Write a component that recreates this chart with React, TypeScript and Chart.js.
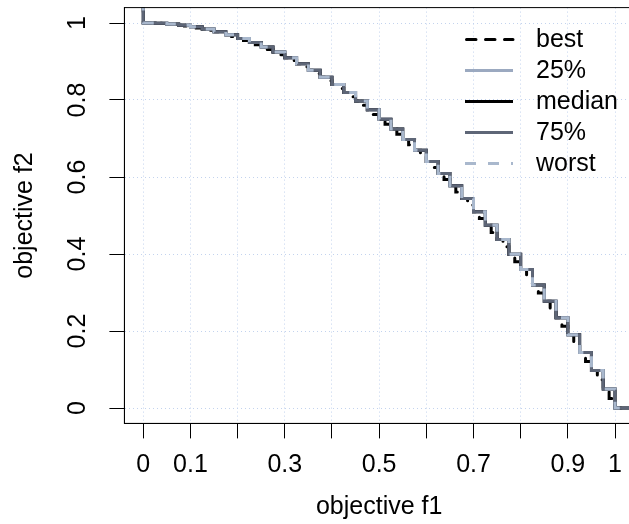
import React, { useEffect, useRef } from "react";
import { Chart, registerables } from "chart.js";

Chart.register(...registerables);

// ---- data ----
const SERIES_NAMES = ["best", "25%", "median", "75%", "worst"];

const X_TICKS = [0, 0.1, 0.2, 0.3, 0.4, 0.5, 0.6, 0.7, 0.8, 0.9, 1];
const X_TICK_LABELS = ["0", "0.1", "", "0.3", "", "0.5", "", "0.7", "", "0.9", "1"];
const Y_TICKS = [0, 0.2, 0.4, 0.6, 0.8, 1];
const Y_TICK_LABELS = ["0", "0.2", "0.4", "0.6", "0.8", "1"];

// best attainment surface (finer set of points)
const BEST_F1 = [
  0, 0.0125, 0.025, 0.0375, 0.05, 0.0625, 0.075, 0.0875, 0.1, 0.1125,
  0.125, 0.1375, 0.15, 0.1625, 0.175, 0.1875, 0.2, 0.2125, 0.225, 0.2375,
  0.25, 0.2625, 0.275, 0.2875, 0.3, 0.3125, 0.325, 0.3375, 0.35, 0.3625,
  0.375, 0.3875, 0.4, 0.4125, 0.425, 0.4375, 0.45, 0.4625, 0.475, 0.4875,
  0.5, 0.5125, 0.525, 0.5375, 0.55, 0.5625, 0.575, 0.5875, 0.6, 0.6125,
  0.625, 0.6375, 0.65, 0.6625, 0.675, 0.6875, 0.7, 0.7125, 0.725, 0.7375,
  0.75, 0.7625, 0.775, 0.7875, 0.8, 0.8125, 0.825, 0.8375, 0.85, 0.8625,
  0.875, 0.8875, 0.9, 0.9125, 0.925, 0.9375, 0.95, 0.9625, 0.975, 0.9875,
  1,
];
const BEST_F2 = [
  1, 0.9998, 0.9994, 0.9986, 0.9975, 0.9961, 0.9944, 0.9923, 0.99, 0.9873,
  0.9844, 0.9811, 0.9775, 0.9736, 0.9694, 0.9648, 0.96, 0.9548, 0.9494, 0.9436,
  0.9375, 0.9311, 0.9244, 0.9173, 0.91, 0.9023, 0.8944, 0.8861, 0.8775, 0.8686,
  0.8594, 0.8498, 0.84, 0.8298, 0.8194, 0.8086, 0.7975, 0.7861, 0.7744, 0.7623,
  0.75, 0.7373, 0.7244, 0.7111, 0.6975, 0.6836, 0.6694, 0.6548, 0.64, 0.6248,
  0.6094, 0.5936, 0.5775, 0.5611, 0.5444, 0.5273, 0.51, 0.4923, 0.4744, 0.4561,
  0.4375, 0.4186, 0.3994, 0.3798, 0.36, 0.3398, 0.3194, 0.2986, 0.2775, 0.2561,
  0.2344, 0.2123, 0.19, 0.1673, 0.1444, 0.1211, 0.0975, 0.0736, 0.0494, 0.0248,
  0,
];

// 25%, median, 75% and worst attainment surfaces (coincide at this scale)
const SURF_F1 = [
  0, 0.025, 0.05, 0.075, 0.1, 0.125, 0.15, 0.175, 0.2, 0.225,
  0.25, 0.275, 0.3, 0.325, 0.35, 0.375, 0.4, 0.425, 0.45, 0.475,
  0.5, 0.525, 0.55, 0.575, 0.6, 0.625, 0.65, 0.675, 0.7, 0.725,
  0.75, 0.775, 0.8, 0.825, 0.85, 0.875, 0.9, 0.925, 0.95, 0.975,
  1,
];
const SURF_F2 = [
  1, 0.9994, 0.9975, 0.9944, 0.99, 0.9844, 0.9775, 0.9694, 0.96, 0.9494,
  0.9375, 0.9244, 0.91, 0.8944, 0.8775, 0.8594, 0.84, 0.8194, 0.7975, 0.7744,
  0.75, 0.7244, 0.6975, 0.6694, 0.64, 0.6094, 0.5775, 0.5444, 0.51, 0.4744,
  0.4375, 0.3994, 0.36, 0.3194, 0.2775, 0.2344, 0.19, 0.1444, 0.0975, 0.0494,
  0,
];
const Q25_F2 = SURF_F2;
const MEDIAN_F2 = SURF_F2;
const Q75_F2 = SURF_F2;
const WORST_F2 = SURF_F2;

// ---- styling ----
const FONT = "'Liberation Sans', Arial, Helvetica, sans-serif";
const FS = 25;
const GRID = "#c3d3ee";
const COLORS = ["#000000", "#9ba9c0", "#000000", "#5e6677", "#a9b8cd"];
const DASHES: number[][] = [[9.5, 9.5], [], [], [], [11, 12]];
const CAPS = ["round", "butt", "butt", "butt", "butt"];
const OUT = 1.3; // beyond plotting range (open ends of the surfaces)

function surface(xs: number[], ys: number[]) {
  const pts = [{ x: xs[0], y: OUT }];
  xs.forEach((x, i) => pts.push({ x, y: ys[i] }));
  pts.push({ x: OUT, y: ys[ys.length - 1] });
  return pts;
}

const boxLegend = {
  id: "boxLegend",
  afterDraw(chart: any) {
    const { ctx, chartArea: a } = chart;
    ctx.save();
    ctx.strokeStyle = "#000";
    ctx.lineWidth = 1;
    ctx.setLineDash([]);
    ctx.strokeRect(a.left, a.top, a.right - a.left, a.bottom - a.top);

    // legend (top right, inside plot)
    const x0 = 465, x1 = 513, tx = 536, y0 = 39.5, dy = 31;
    ctx.font = `${FS}px ${FONT}`;
    ctx.textBaseline = "middle";
    ctx.textAlign = "left";
    SERIES_NAMES.forEach((name, i) => {
      const y = y0 + i * dy;
      ctx.beginPath();
      ctx.strokeStyle = COLORS[i];
      ctx.lineWidth = 3;
      ctx.lineCap = CAPS[i];
      ctx.setLineDash(DASHES[i]);
      ctx.moveTo(x0 + (CAPS[i] === "round" ? 1.5 : 0), y);
      ctx.lineTo(x1, y);
      ctx.stroke();
      ctx.setLineDash([]);
      ctx.fillStyle = "#000";
      ctx.fillText(name, tx, y + 1);
    });
    ctx.restore();
  },
};

export default function App() {
  const ref = useRef<HTMLCanvasElement | null>(null);

  useEffect(() => {
    if (!ref.current) return;
    Chart.defaults.font.family = FONT;
    Chart.defaults.font.size = FS;
    Chart.defaults.color = "#000";

    const series = [
      surface(BEST_F1, BEST_F2),
      surface(SURF_F1, Q25_F2),
      surface(SURF_F1, MEDIAN_F2),
      surface(SURF_F1, Q75_F2),
      surface(SURF_F1, WORST_F2),
    ];

    const datasets = series.map((data, i) => ({
      label: SERIES_NAMES[i],
      data,
      showLine: true,
      stepped: "before" as const,
      borderColor: COLORS[i],
      backgroundColor: COLORS[i],
      borderWidth: 3,
      borderDash: DASHES[i],
      borderCapStyle: CAPS[i],
      pointRadius: 0,
      fill: false,
      tension: 0,
      clip: 0,
      order: 5 - i,
    }));

    const chart = new Chart(ref.current, {
      type: "scatter",
      data: { datasets },
      options: {
        responsive: false,
        animation: false,
        events: [],
        layout: { padding: { left: 0, right: 26.1, top: 7.6, bottom: 0 } },
        plugins: { legend: { display: false }, tooltip: { enabled: false } },
        scales: {
          x: {
            type: "linear",
            min: -0.04,
            max: 1.04,
            afterBuildTicks: (s: any) => {
              s.ticks = X_TICKS.map((v) => ({ value: v }));
            },
            afterFit: (s: any) => {
              s.height = 100.6;
              s.paddingLeft = 0;
              s.paddingRight = 0;
            },
            ticks: {
              autoSkip: false,
              maxRotation: 0,
              minRotation: 0,
              padding: 12,
              callback: (v: any) => {
                const i = X_TICKS.findIndex((t) => Math.abs(t - Number(v)) < 1e-9);
                return i >= 0 ? X_TICK_LABELS[i] : "";
              },
            },
            grid: {
              color: GRID,
              lineWidth: 1,
              drawTicks: true,
              tickLength: 15,
              tickColor: "#000",
              tickWidth: 1,
              tickBorderDash: [],
            },
            border: { display: true, color: "#000", width: 1, dash: [1, 3] },
            title: { display: true, text: "objective f1", padding: { top: 0, bottom: 2 } },
          },
          y: {
            type: "linear",
            min: -0.04,
            max: 1.04,
            afterBuildTicks: (s: any) => {
              s.ticks = Y_TICKS.map((v) => ({ value: v }));
            },
            afterFit: (s: any) => {
              s.width = 124.4;
              s.paddingTop = 0;
              s.paddingBottom = 0;
            },
            ticks: {
              autoSkip: false,
              minRotation: 90,
              maxRotation: 90,
              crossAlign: "center",
              padding: 14,
              callback: (v: any) => {
                const i = Y_TICKS.findIndex((t) => Math.abs(t - Number(v)) < 1e-9);
                return i >= 0 ? Y_TICK_LABELS[i] : "";
              },
            },
            grid: {
              color: GRID,
              lineWidth: 1,
              drawTicks: true,
              tickLength: 15,
              tickColor: "#000",
              tickWidth: 1,
              tickBorderDash: [],
            },
            border: { display: true, color: "#000", width: 1, dash: [1, 3] },
            title: { display: true, text: "objective f2", padding: { top: 10, bottom: 0 } },
          },
        },
      },
      plugins: [boxLegend],
    } as any);

    return () => chart.destroy();
  }, []);

  return (
    <div
      style={{
        position: "fixed",
        left: 0,
        top: 0,
        width: 629,
        height: 524,
        overflow: "hidden",
        background: "#fff",
      }}
    >
      <canvas ref={ref} width={660} height={524} style={{ width: 660, height: 524, display: "block" }} />
    </div>
  );
}
